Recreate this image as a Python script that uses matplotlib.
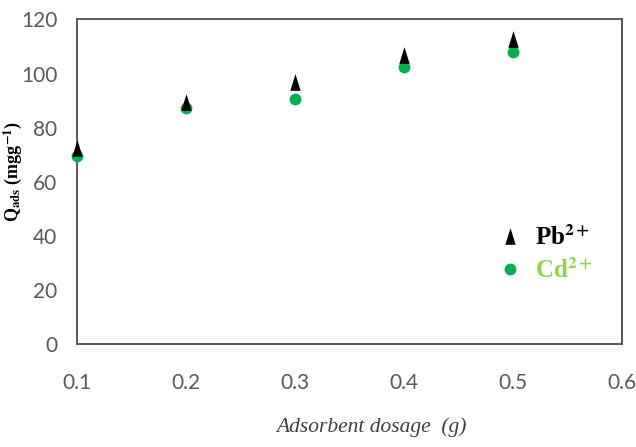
import matplotlib
matplotlib.use("Agg")
import matplotlib.pyplot as plt
from matplotlib.path import Path
from matplotlib import font_manager

plt.rcParams['mathtext.fontset'] = 'stix'

dosage = [0.1, 0.2, 0.3, 0.4, 0.5]
pb = [72.5, 89.5, 96.9, 106.8, 112.9]
cd = [69.4, 87.3, 90.6, 102.6, 107.9]
xticks = [0.1, 0.2, 0.3, 0.4, 0.5, 0.6]
yticks = [0, 20, 40, 60, 80, 100, 120]

names = {f.name for f in font_manager.fontManager.ttflist}
tick_font = 'Liberation Sans Narrow' if 'Liberation Sans Narrow' in names else 'Lato'

tri = Path([(0, 1), (-0.62, -1), (0.62, -1), (0, 1)],
           [Path.MOVETO, Path.LINETO, Path.LINETO, Path.CLOSEPOLY])

fig = plt.figure(figsize=(6.36, 4.47), dpi=100)
ax = fig.add_axes([0.121, 0.2304, 0.857, 0.726])

ax.plot(dosage, cd, linestyle='none', marker='o', markersize=8.5,
        color='#00b050', markeredgewidth=0, clip_on=False, zorder=3,
        label=r'Cd$^{\mathbf{2+}}$')
ax.plot(dosage, pb, linestyle='none', marker=tri, markersize=12,
        color='black', markeredgewidth=0, clip_on=False, zorder=4,
        label=r'Pb$^{\mathbf{2+}}$')

ax.set_xlim(0.1, 0.6)
ax.set_ylim(0, 120)
ax.set_xticks(xticks)
ax.set_xticklabels([f"{v:g}" for v in xticks])
ax.set_yticks(yticks)
ax.set_yticklabels([str(v) for v in yticks])
ax.tick_params(length=0, labelsize=15, colors='#595959', pad=14)
ax.tick_params(axis='x', pad=21)
for lab in ax.get_xticklabels() + ax.get_yticklabels():
    lab.set_fontfamily(tick_font)
for s in ax.spines.values():
    s.set_color('#595959')
    s.set_linewidth(1.4)

ax.set_xlabel('Adsorbent dosage  (g)', fontsize=15.5, style='italic',
              family='Liberation Serif', color='#404040')
ax.xaxis.set_label_coords(0.54, -0.225)
ax.set_ylabel(r'Q$_{\mathbf{ads}}$ (mgg$^{\mathbf{-1}}$)', fontsize=13,
              fontweight='bold', family='Liberation Serif')
ax.yaxis.set_label_coords(-0.098, 0.53)

h, l = ax.get_legend_handles_labels()
leg = ax.legend([h[1], h[0]], [l[1], l[0]], loc='center left',
                bbox_to_anchor=(0.73, 0.277), frameon=False,
                prop={'family': 'Liberation Serif', 'size': 18, 'weight': 'bold'},
                handletextpad=0.5, labelspacing=0.35, handlelength=1.0)
texts = leg.get_texts()
texts[0].set_color('black')
texts[1].set_color('#92d050')

fig.savefig('out.png', dpi=100)
